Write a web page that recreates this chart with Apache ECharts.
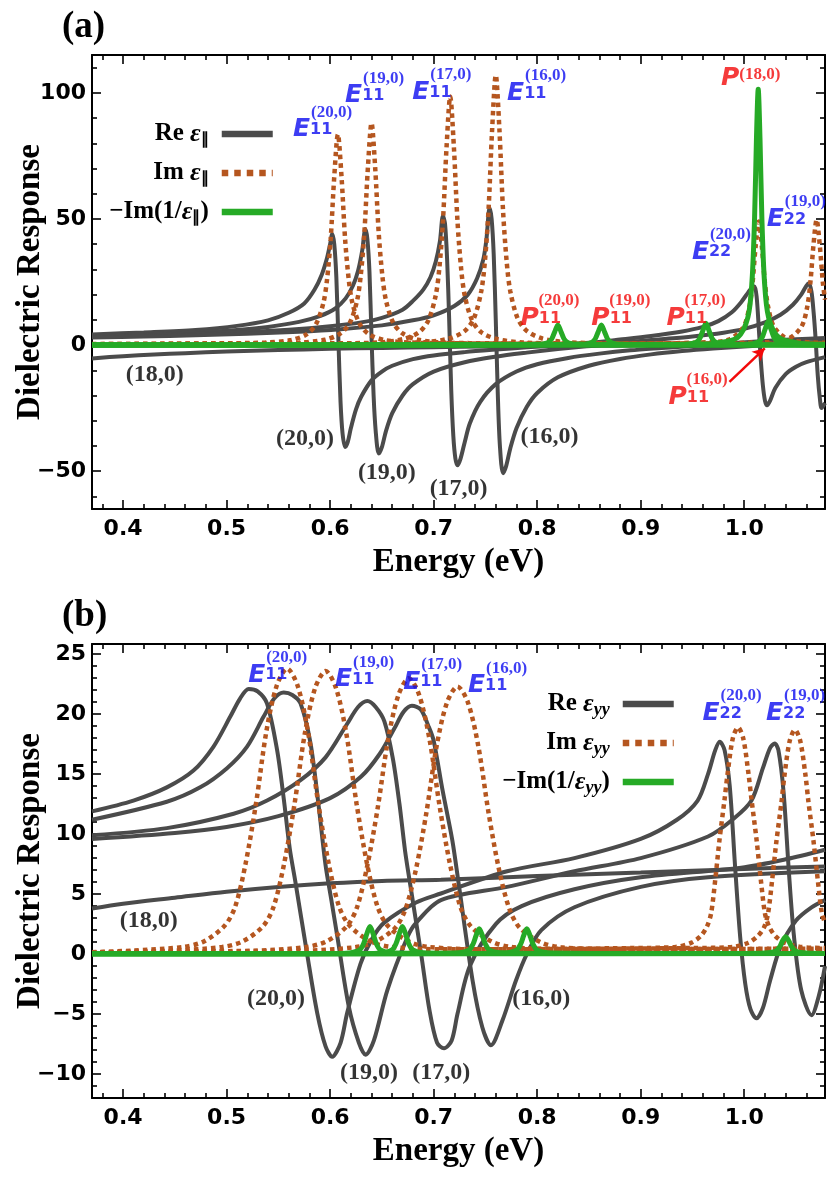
<!DOCTYPE html>
<html>
<head>
<meta charset="utf-8">
<title>Dielectric response of (n,0) tubes</title>
<script src="https://cdn.jsdelivr.net/npm/echarts@6.0.0/dist/echarts.min.js"></script>
<style>
  html, body { margin: 0; padding: 0; background: #fff; }
  #main { width: 830px; height: 1183px; }
</style>
</head>
<body>
<div id="main"></div>
<script>
// tick positions
var xMajor = [0.4, 0.5, 0.6, 0.7, 0.8, 0.9, 1.0];
var xMinor = [0.38, 0.42, 0.44, 0.46, 0.48, 0.52, 0.54, 0.56, 0.58, 0.62, 0.64, 0.66, 0.68, 0.72, 0.74, 0.76, 0.78,
              0.82, 0.84, 0.86, 0.88, 0.92, 0.94, 0.96, 0.98, 1.02, 1.04, 1.06];
var yMajorA = [-50, 0, 50, 100];
var yMinorA = [-60, -40, -30, -20, -10, 10, 20, 30, 40, 60, 70, 80, 90, 110];
var yMajorB = [-10, -5, 0, 5, 10, 15, 20, 25];
var yMinorB = [-11, -9, -8, -7, -6, -4, -3, -2, -1, 1, 2, 3, 4, 6, 7, 8, 9, 11, 12, 13, 14, 16, 17, 18, 19, 21, 22, 23, 24];

// ---- (a) parallel: Re eps ----
var reA20 = [[0.37,4.2],[0.42,5.0],[0.47,6.0],[0.51,7.6],[0.54,9.8],[0.56,12.8],[0.575,16.5],[0.585,22],[0.592,28],[0.597,34.5],[0.600,40],[0.602,44],[0.604,40],[0.606,27],[0.608,2],[0.610,-22],[0.612,-35],[0.6145,-40.4],[0.617,-38.5],[0.620,-33],[0.625,-25.5],[0.630,-20.5],[0.640,-14],[0.650,-10.5],[0.660,-8.2],[0.680,-5.6],[0.700,-4.1],[0.730,-2.8],[0.760,-1.8],[0.790,-0.9],[0.820,0],[0.850,0.9],[0.880,2.2],[0.910,3.6],[0.940,5.4],[0.960,7.2],[0.975,9.5],[0.988,13],[0.997,17],[1.004,21],[1.008,23],[1.010,23.2],[1.012,19],[1.014,7],[1.016,-6],[1.018,-16],[1.020,-22],[1.022,-23.9],[1.025,-22],[1.030,-17],[1.040,-11.5],[1.050,-8.6],[1.060,-6.8],[1.078,-4.8]];
var reA19 = [[0.37,3.6],[0.42,4.2],[0.47,5.0],[0.51,6.0],[0.54,7.2],[0.57,9.2],[0.59,11.5],[0.605,14.5],[0.615,18.5],[0.622,23.5],[0.627,29.5],[0.631,37.5],[0.634,46],[0.636,42],[0.638,29],[0.640,3],[0.642,-20],[0.644,-34],[0.647,-43],[0.650,-40.5],[0.654,-34],[0.660,-27],[0.670,-20],[0.680,-15.5],[0.700,-10.5],[0.730,-6.8],[0.760,-4.6],[0.790,-3.0],[0.820,-1.6],[0.845,-0.6],[0.862,0],[0.880,0.9],[0.920,2.3],[0.950,3.4],[0.980,4.9],[1.000,6.4],[1.020,9],[1.035,12],[1.047,16],[1.055,20],[1.060,23.5],[1.0625,24.5],[1.065,21],[1.067,13],[1.069,2],[1.071,-12],[1.073,-21],[1.0747,-25],[1.078,-23]];
var reA17 = [[0.37,3.3],[0.42,3.8],[0.47,4.4],[0.52,5.2],[0.56,6.1],[0.60,7.5],[0.63,9.0],[0.65,10.8],[0.67,14],[0.68,17.5],[0.69,22],[0.697,27],[0.702,33],[0.706,41],[0.709,51.3],[0.711,48],[0.713,34],[0.715,10],[0.717,-18],[0.719,-36],[0.721,-45],[0.723,-47.7],[0.726,-45],[0.730,-38.5],[0.735,-31],[0.745,-22.5],[0.760,-15.5],[0.780,-10.5],[0.800,-7.6],[0.830,-5.1],[0.860,-3.4],[0.890,-2.1],[0.920,-1.2],[0.945,-0.5],[0.963,0],[0.990,0.8],[1.020,1.6],[1.050,2.3],[1.078,2.8]];
var reA16 = [[0.37,3.0],[0.42,3.4],[0.47,3.9],[0.52,4.5],[0.57,5.3],[0.61,6.3],[0.65,7.8],[0.68,9.8],[0.70,11.8],[0.72,15.5],[0.733,20],[0.742,26.5],[0.748,34],[0.751,42],[0.754,54.3],[0.756,50],[0.758,36],[0.760,10],[0.762,-20],[0.764,-40],[0.767,-50.8],[0.770,-48],[0.774,-41],[0.780,-33],[0.790,-24.5],[0.800,-19],[0.820,-12.8],[0.850,-8.2],[0.880,-5.5],[0.910,-3.7],[0.940,-2.4],[0.970,-1.4],[1.000,-0.6],[1.023,0],[1.050,0.7],[1.078,1.5]];
var reA18 = [[0.37,-5.3],[0.40,-4.4],[0.43,-3.7],[0.46,-3.2],[0.50,-2.6],[0.55,-2.0],[0.60,-1.5],[0.65,-1.15],[0.70,-0.85],[0.75,-0.6],[0.80,-0.45],[0.85,-0.3],[0.90,-0.2],[0.95,-0.1],[1.0135,0],[1.05,0.1],[1.078,0.15]];

// ---- (a) parallel: Im eps ----
var imA20 = [[0.37,0.4],[0.45,0.55],[0.50,0.7],[0.5375,1.0],[0.5625,2.0],[0.5775,4.3],[0.5865,8.4],[0.5935,16.7],[0.597,25.9],[0.6005,41.8],[0.604,66.8],[0.6075,83.5],[0.611,66.8],[0.6145,41.8],[0.618,25.9],[0.6215,16.7],[0.6285,8.4],[0.6375,4.3],[0.6525,2.0],[0.6775,1.0],[0.72,0.7],[0.80,0.55],[0.90,0.6],[0.954,1.0],[0.984,2.0],[0.999,7],[1.005,15.3],[1.008,24.5],[1.011,39.2],[1.014,49],[1.017,39.2],[1.020,24.5],[1.023,15.3],[1.029,7],[1.044,2.0],[1.078,0.9]];
var imA19 = [[0.37,0.35],[0.45,0.5],[0.52,0.7],[0.57,1.0],[0.595,2.1],[0.610,4.6],[0.619,8.8],[0.626,17.6],[0.6295,27.3],[0.633,44],[0.6365,70.4],[0.640,88],[0.6435,70.4],[0.647,44],[0.6505,27.3],[0.654,17.6],[0.661,8.8],[0.670,4.6],[0.685,2.1],[0.710,1.0],[0.76,0.7],[0.85,0.55],[0.95,0.6],[1.010,1.0],[1.0399,2.0],[1.0549,7],[1.0609,15.3],[1.0639,24.9],[1.0669,39.8],[1.0699,49.7],[1.0729,39.8],[1.0759,24.9],[1.078,18]];
var imA17 = [[0.37,0.3],[0.50,0.45],[0.60,0.7],[0.646,1.0],[0.671,2.4],[0.686,5.1],[0.695,9.9],[0.702,19.7],[0.7055,30.5],[0.709,49.3],[0.7125,78.8],[0.716,98.5],[0.7195,78.8],[0.723,49.3],[0.7265,30.5],[0.730,19.7],[0.737,9.9],[0.746,5.1],[0.761,2.4],[0.786,1.0],[0.85,0.6],[0.95,0.5],[1.078,0.6]];
var imA16 = [[0.37,0.3],[0.50,0.4],[0.62,0.6],[0.69,1.1],[0.715,2.6],[0.730,5.6],[0.739,10.7],[0.746,21.4],[0.7495,33.2],[0.753,53.5],[0.7565,85.6],[0.760,107],[0.7635,85.6],[0.767,53.5],[0.7705,33.2],[0.774,21.4],[0.781,10.7],[0.790,5.6],[0.805,2.6],[0.830,1.1],[0.90,0.6],[1.078,0.5]];

// ---- (a) parallel: loss -Im(1/eps) ----
var lossA20 = [[0.37,0],[0.76,0.1],[0.80,0.3],[0.81,0.9],[0.814,2.4],[0.817,5.3],[0.820,8],[0.823,5.3],[0.826,2.4],[0.830,0.9],[0.840,0.3],[0.88,0.1],[1.078,0.05]];
var lossA19 = [[0.37,0],[0.80,0.1],[0.842,0.3],[0.852,0.9],[0.856,2.4],[0.859,5.3],[0.862,8],[0.865,5.3],[0.868,2.4],[0.872,0.9],[0.882,0.3],[0.92,0.1],[1.078,0.05]];
var lossA17 = [[0.37,0],[0.90,0.1],[0.943,0.3],[0.953,1.0],[0.957,2.6],[0.960,5.7],[0.963,8.6],[0.966,5.7],[0.969,2.6],[0.973,1.0],[0.983,0.3],[1.02,0.1],[1.078,0.05]];
var lossA16 = [[0.37,0],[0.96,0.1],[1.003,0.35],[1.013,1.1],[1.017,2.8],[1.020,6.1],[1.023,9.3],[1.026,6.1],[1.029,2.8],[1.033,1.1],[1.043,0.35],[1.078,0.1]];
var lossA18 = [[0.37,0],[0.80,0.1],[0.90,0.15],[0.95,0.35],[0.9735,0.76],[0.9935,3],[1.0035,11],[1.0075,25.4],[1.010,50.7],[1.0118,82],[1.0135,101.4],[1.0152,82],[1.017,50.7],[1.0195,25.4],[1.0235,11],[1.0335,3],[1.0535,0.76],[1.078,0.35]];

// ---- (b) perpendicular: Re eps_yy ----
var reB20 = [[0.37,11.9],[0.41,12.8],[0.4423,13.9],[0.468,15.3],[0.4874,17.3],[0.5036,19.8],[0.513,21.3],[0.5213,22.1],[0.530,21.9],[0.539,20.9],[0.5488,17],[0.555,13.1],[0.561,8.8],[0.5665,6.0],[0.5778,0],[0.5875,-4.9],[0.5956,-7.7],[0.602,-8.56],[0.6101,-7.4],[0.6165,-4.9],[0.6294,-0.8],[0.640,1.2],[0.652,2.6],[0.683,4.3],[0.707,5.05],[0.771,6.9],[0.836,8.0],[0.900,9.6],[0.935,11.2],[0.955,12.8],[0.965,15],[0.972,17],[0.9763,17.7],[0.981,17],[0.986,14],[0.991,7.5],[0.996,1.5],[1.001,-2.5],[1.006,-4.6],[1.0118,-5.36],[1.018,-4.5],[1.025,-2.2],[1.035,0.6],[1.050,2.8],[1.065,3.9],[1.078,4.5]];
var reB19 = [[0.37,11.2],[0.4423,12.7],[0.4745,13.9],[0.5004,15.5],[0.5198,17.3],[0.5358,19.8],[0.546,21.3],[0.5552,21.8],[0.5635,21.6],[0.5714,20.9],[0.581,17.6],[0.589,12.3],[0.5956,7.4],[0.601,4.6],[0.6069,1.5],[0.6181,-4.4],[0.6278,-7.4],[0.6343,-8.4],[0.6423,-7.2],[0.6553,-3],[0.6746,1.4],[0.683,2.6],[0.707,4.5],[0.771,5.6],[0.836,6.9],[0.900,8.0],[0.965,9.8],[0.990,11.3],[1.007,12.8],[1.018,15.5],[1.025,17.2],[1.0295,17.55],[1.033,17],[1.038,13.5],[1.043,7],[1.048,1.5],[1.055,-3],[1.065,-5.1],[1.072,-3.5],[1.078,-1]];
var reB17 = [[0.37,9.9],[0.4423,10.5],[0.5068,11.7],[0.5391,12.8],[0.5714,14.5],[0.5956,16.4],[0.6165,19.2],[0.627,20.6],[0.636,21.1],[0.644,20.6],[0.6524,19.4],[0.6606,16.3],[0.667,12.5],[0.6724,8.6],[0.677,6.0],[0.6879,0],[0.696,-4.7],[0.7033,-7.4],[0.710,-7.86],[0.7174,-7.2],[0.723,-5],[0.735,-1],[0.760,2.5],[0.785,4.0],[0.836,5.4],[0.900,6.4],[0.997,7.2],[1.040,7.9],[1.078,8.7]];
var reB16 = [[0.37,9.6],[0.45,10.1],[0.50,10.6],[0.55,11.5],[0.60,13],[0.63,14.8],[0.648,16.7],[0.662,18.8],[0.671,20.2],[0.679,20.7],[0.6875,20.4],[0.695,19],[0.700,17.8],[0.7085,13.7],[0.718,9.5],[0.7246,5.6],[0.7376,-2.2],[0.747,-6.1],[0.7553,-7.6],[0.7666,-5.5],[0.7795,-2.2],[0.790,0],[0.804,2.0],[0.836,3.9],[0.900,5.6],[0.965,6.4],[1.078,6.9]];
var reB18 = [[0.37,3.8],[0.40,4.2],[0.45,4.7],[0.50,5.2],[0.55,5.6],[0.60,5.9],[0.65,6.1],[0.707,6.2],[0.80,6.5],[0.90,6.8],[1.00,7.1],[1.078,7.3]];

// ---- (b) perpendicular: Im eps_yy ----
var imB20 = [[0.37,0.15],[0.4085,0.29],[0.4585,0.6],[0.4785,1.07],[0.4985,2.4],[0.5085,4.0],[0.5185,7.6],[0.5285,12.6],[0.5385,18.6],[0.5485,22.4],[0.5585,23.8],[0.5685,22.4],[0.5785,18.6],[0.5885,12.6],[0.5985,7.6],[0.6085,4.0],[0.6185,2.4],[0.6385,1.07],[0.6585,0.6],[0.7085,0.4],[0.894,0.5],[0.934,0.6],[0.949,0.95],[0.958,1.5],[0.964,2.3],[0.968,3.4],[0.972,6.2],[0.976,9.45],[0.981,12.9],[0.984,15.1],[0.989,18],[0.994,18.9],[0.999,18],[1.004,15.1],[1.007,12.9],[1.012,9.45],[1.016,6.2],[1.020,3.4],[1.024,2.3],[1.030,1.5],[1.039,0.95],[1.054,0.6],[1.078,0.5]];
var imB19 = [[0.37,0.15],[0.4456,0.28],[0.4956,0.59],[0.5156,1.06],[0.5356,2.36],[0.5456,4.0],[0.5556,7.55],[0.5656,12.5],[0.5756,18.4],[0.5856,22.2],[0.5956,23.6],[0.6056,22.2],[0.6156,18.4],[0.6256,12.5],[0.6356,7.55],[0.6456,4.0],[0.6556,2.36],[0.6756,1.06],[0.6956,0.59],[0.7456,0.4],[0.949,0.5],[0.989,0.6],[1.004,0.94],[1.013,1.5],[1.019,2.2],[1.023,3.4],[1.027,6.2],[1.031,9.35],[1.036,12.7],[1.039,15],[1.044,17.8],[1.049,18.7],[1.054,17.8],[1.059,15],[1.062,12.7],[1.067,9.35],[1.071,6.2],[1.075,3.4],[1.078,2.6]];
var imB17 = [[0.37,0.15],[0.526,0.28],[0.576,0.58],[0.596,1.04],[0.616,2.3],[0.626,3.9],[0.636,7.4],[0.646,12.2],[0.656,17.9],[0.666,21.6],[0.676,23],[0.686,21.6],[0.696,17.9],[0.706,12.2],[0.716,7.4],[0.726,3.9],[0.736,2.3],[0.756,1.04],[0.776,0.58],[0.826,0.4],[1.078,0.45]];
var imB16 = [[0.37,0.15],[0.573,0.27],[0.623,0.56],[0.643,1.0],[0.663,2.2],[0.673,3.8],[0.683,7.1],[0.693,11.8],[0.703,17.4],[0.713,21],[0.723,22.3],[0.733,21],[0.743,17.4],[0.753,11.8],[0.763,7.1],[0.773,3.8],[0.783,2.2],[0.803,1.0],[0.823,0.56],[0.873,0.4],[1.078,0.45]];

// ---- (b) perpendicular: loss -Im(1/eps_yy) ----
var lossB20 = [[0.37,0.03],[0.60,0.05],[0.6185,0.1],[0.6285,0.35],[0.6325,0.9],[0.6355,1.7],[0.6385,2.3],[0.6415,1.7],[0.6445,0.9],[0.6485,0.35],[0.6585,0.1],[0.70,0.05],[1.00,0.05],[1.02,0.08],[1.030,0.22],[1.034,0.58],[1.037,1.1],[1.040,1.45],[1.043,1.1],[1.046,0.58],[1.050,0.22],[1.060,0.08],[1.078,0.05]];
var lossB19 = [[0.37,0.03],[0.63,0.05],[0.6498,0.1],[0.6598,0.35],[0.6638,0.9],[0.6668,1.7],[0.6698,2.3],[0.6728,1.7],[0.6758,0.9],[0.6798,0.35],[0.6898,0.1],[0.73,0.05],[1.078,0.05]];
var lossB17 = [[0.37,0.03],[0.70,0.05],[0.724,0.1],[0.734,0.32],[0.738,0.82],[0.741,1.55],[0.744,2.1],[0.747,1.55],[0.750,0.82],[0.754,0.32],[0.764,0.1],[0.80,0.05],[1.078,0.05]];
var lossB16 = [[0.37,0.03],[0.75,0.05],[0.770,0.1],[0.780,0.32],[0.784,0.82],[0.787,1.55],[0.790,2.1],[0.793,1.55],[0.796,0.82],[0.800,0.32],[0.810,0.1],[0.85,0.05],[1.078,0.05]];
var lossB18 = [[0.37,0.02],[0.70,0.03],[1.078,0.04]];

var BLUE = '#0c0cf0', RED = '#f20a0a';
var C_RE = '#4b4b4b', C_IM = '#b5561f', C_LOSS = '#26aa26';

var TICK_FONT = { fontFamily: 'DejaVu Sans', fontWeight: 'bold', fontSize: 22, color: '#000' };
var NAME_FONT = { fontFamily: 'Liberation Serif', fontWeight: 'bold', fontSize: 33, color: '#000' };

function ticks(len, vals) {
  return { show: true, inside: true, length: len, customValues: vals, lineStyle: { color: '#000', width: 1.6 } };
}

// 4 x axes per grid: bottom major (labels), bottom minor, top major, top minor
function xAxesFor(g) {
  var out = [];
  ['bottom', 'top'].forEach(function (pos) {
    out.push({
      type: 'value', gridIndex: g, position: pos, min: 0.37, max: 1.078,
      splitLine: { show: false },
      axisLine: { show: true, onZero: false, lineStyle: { color: '#000', width: 2 } },
      axisTick: ticks(9, xMajor),
      axisLabel: pos === 'bottom'
        ? Object.assign({ customValues: xMajor, margin: 9, formatter: function (v) { return v.toFixed(1); } }, TICK_FONT)
        : { show: false },
      name: pos === 'bottom' ? 'Energy (eV)' : '',
      nameLocation: 'middle', nameGap: 37, nameTextStyle: NAME_FONT
    });
    out.push({
      type: 'value', gridIndex: g, position: pos, min: 0.37, max: 1.078,
      splitLine: { show: false }, axisLine: { show: false, onZero: false },
      axisTick: ticks(5, xMinor), axisLabel: { show: false }
    });
  });
  return out;
}

function yAxesFor(g, lo, hi, major, minor) {
  var out = [];
  ['left', 'right'].forEach(function (pos) {
    out.push({
      type: 'value', gridIndex: g, position: pos, min: lo, max: hi,
      splitLine: { show: false },
      axisLine: { show: true, onZero: false, lineStyle: { color: '#000', width: 2 } },
      axisTick: ticks(9, major),
      axisLabel: pos === 'left'
        ? Object.assign({ customValues: major, margin: 6, formatter: function (v) { return String(v).replace('-', '\u2212'); } }, TICK_FONT)
        : { show: false },
      name: pos === 'left' ? 'Dielectric Response' : '',
      nameLocation: 'middle', nameGap: 45, nameMoveOverlap: false, nameTextStyle: NAME_FONT
    });
    out.push({
      type: 'value', gridIndex: g, position: pos, min: lo, max: hi,
      splitLine: { show: false }, axisLine: { show: false, onZero: false },
      axisTick: ticks(5, minor), axisLabel: { show: false }
    });
  });
  return out;
}

var RE_STYLE = { color: C_RE, width: 4 };
var IM_STYLE = { color: C_IM, width: 4.5, type: [4.5, 4], cap: 'butt' };
var LOSS_STYLE = { color: C_LOSS, width: 5 };

function curves(list, name, style, g) {
  return list.map(function (d) {
    return {
      type: 'line', name: name, data: d, xAxisIndex: g * 4, yAxisIndex: g * 4,
      symbol: 'none', smooth: 0.3, silent: true, lineStyle: style, itemStyle: { color: style.color },
      emphasis: { disabled: true }
    };
  });
}

// rich styles for the peak tags
var TAG_RICH = {
  sp:   { width: 18, fontSize: 16, lineHeight: 15 },
  supB: { fontFamily: 'Liberation Serif', fontWeight: 'bold', fontSize: 17, lineHeight: 15, color: BLUE },
  eB:   { fontFamily: 'DejaVu Sans', fontWeight: 'bold', fontStyle: 'italic', fontSize: 25, lineHeight: 20, color: BLUE },
  subB: { fontFamily: 'DejaVu Sans', fontWeight: 'bold', fontSize: 16, lineHeight: 20, color: BLUE },
  supR: { fontFamily: 'Liberation Serif', fontWeight: 'bold', fontSize: 17, lineHeight: 15, color: RED },
  eR:   { fontFamily: 'DejaVu Sans', fontWeight: 'bold', fontStyle: 'italic', fontSize: 25, lineHeight: 20, color: RED },
  subR: { fontFamily: 'DejaVu Sans', fontWeight: 'bold', fontSize: 16, lineHeight: 20, color: RED },
  supR2:{ fontFamily: 'Liberation Serif', fontWeight: 'bold', fontSize: 17, color: RED, padding: [0, 0, 9, 0] }
};

function tag(x, y, letter, sub, sup, c) {
  return { value: [x, y], label: { formatter: '{sp|}{sup' + c + '|' + sup + '}\n{e' + c + '|' + letter + '}{sub' + c + '|' + sub + '}' } };
}

function tagSeries(g, items, extra) {
  return Object.assign({
    type: 'scatter', xAxisIndex: g * 4, yAxisIndex: g * 4, symbolSize: 1, silent: true,
    itemStyle: { color: 'rgba(0,0,0,0)' },
    label: { show: true, position: [0, 0], align: 'left', verticalAlign: 'top', rich: TAG_RICH },
    data: items, z: 10
  }, extra || {});
}

function tubeSeries(g, items) {
  return {
    type: 'scatter', xAxisIndex: g * 4, yAxisIndex: g * 4, symbolSize: 1, silent: true,
    itemStyle: { color: 'rgba(0,0,0,0)' },
    label: {
      show: true, position: [0, 0], align: 'center', verticalAlign: 'middle',
      fontFamily: 'Liberation Serif', fontWeight: 'bold', fontSize: 24, color: '#000',
      formatter: function (p) { return p.data.t; }
    },
    data: items, z: 10
  };
}

var tagsA = [
  tag(0.5646, 95.0, 'E', '11', '(20,0)', 'B'),
  tag(0.6149, 108.6, 'E', '11', '(19,0)', 'B'),
  tag(0.6798, 109.9, 'E', '11', '(17,0)', 'B'),
  tag(0.7714, 109.5, 'E', '11', '(16,0)', 'B'),
  tag(0.9499, 46.5, 'E', '22', '(20,0)', 'B'),
  tag(1.0222, 59.5, 'E', '22', '(19,0)', 'B'),
  tag(0.7843, 20.3, 'P', '11', '(20,0)', 'R'),
  tag(0.8528, 20.3, 'P', '11', '(19,0)', 'R'),
  tag(0.9254, 20.3, 'P', '11', '(17,0)', 'R'),
  tag(0.9273, -11.1, 'P', '11', '(16,0)', 'R'),
  { value: [0.978, 110.5], label: { formatter: '{eR|P}{supR2|(18,0)}' } }
];
var tagsB = [
  tag(0.5213, 25.3, 'E', '11', '(20,0)', 'B'),
  tag(0.6052, 24.9, 'E', '11', '(19,0)', 'B'),
  tag(0.6710, 24.7, 'E', '11', '(17,0)', 'B'),
  tag(0.7337, 24.4, 'E', '11', '(16,0)', 'B'),
  tag(0.9602, 22.1, 'E', '22', '(20,0)', 'B'),
  tag(1.0215, 22.1, 'E', '22', '(19,0)', 'B')
];
var tubesA = [
  { value: [0.431, -11.9], t: '(18,0)' }, { value: [0.5762, -37.4], t: '(20,0)' },
  { value: [0.6553, -50.7], t: '(19,0)' }, { value: [0.7246, -57.3], t: '(17,0)' },
  { value: [0.8124, -36.5], t: '(16,0)' }
];
var tubesB = [
  { value: [0.4252, 2.75], t: '(18,0)' }, { value: [0.5481, -3.75], t: '(20,0)' },
  { value: [0.6381, -9.9], t: '(19,0)' }, { value: [0.7079, -9.9], t: '(17,0)' },
  { value: [0.8044, -3.75], t: '(16,0)' }
];

var LEG_RICH = {
  n:  { fontFamily: 'Liberation Serif', fontWeight: 'bold', fontSize: 25, color: '#000' },
  g:  { fontFamily: 'Liberation Serif', fontWeight: 'bold', fontStyle: 'italic', fontSize: 26, color: '#000' },
  s:  { fontFamily: 'Liberation Serif', fontWeight: 'bold', fontSize: 16, color: '#000', padding: [11, 0, 0, 0] },
  si: { fontFamily: 'Liberation Serif', fontWeight: 'bold', fontStyle: 'italic', fontSize: 18, color: '#000', padding: [12, 0, 0, 0] },
  gap:{ width: 8 }
};

function legendRow(name, text, right, top, lineStyle) {
  return {
    data: [name], right: right, top: top, padding: 0, itemWidth: 51, itemHeight: 14,
    align: 'right', selectedMode: false,
    itemStyle: { opacity: 0, borderWidth: 0 },
    formatter: function () { return text + '{gap|}'; },
    textStyle: { rich: LEG_RICH }, lineStyle: lineStyle
  };
}

var series = []
  .concat(curves([reA20, reA19, reA17, reA16, reA18], 'Re \u03b5\u2225', RE_STYLE, 0))
  .concat(curves([imA20, imA19, imA17, imA16], 'Im \u03b5\u2225', IM_STYLE, 0))
  .concat(curves([lossA20, lossA19, lossA17, lossA16, lossA18], '\u2212Im(1/\u03b5\u2225)', LOSS_STYLE, 0))
  .concat(curves([reB20, reB19, reB17, reB16, reB18], 'Re \u03b5yy', RE_STYLE, 1))
  .concat(curves([imB20, imB19, imB17, imB16], 'Im \u03b5yy', IM_STYLE, 1))
  .concat(curves([lossB20, lossB19, lossB17, lossB16, lossB18], '\u2212Im(1/\u03b5yy)', LOSS_STYLE, 1));

series.push(tagSeries(0, tagsA, {
  markLine: {
    silent: true, symbol: ['none', 'arrow'], symbolSize: [10, 12],
    lineStyle: { color: RED, width: 2.5, type: 'solid' }, label: { show: false },
    data: [[{ coord: [0.9857, -14.6] }, { coord: [1.0198, -1.3] }]]
  }
}));
series.push(tagSeries(1, tagsB));
series.push(tubeSeries(0, tubesA));
series.push(tubeSeries(1, tubesB));

var option = {
  animation: false,
  backgroundColor: '#fff',
  title: [
    { text: '(a)', left: 62, top: 9, padding: 0, textStyle: { fontFamily: 'Liberation Serif', fontWeight: 'bold', fontSize: 37, color: '#000' } },
    { text: '(b)', left: 62, top: 598, padding: 0, textStyle: { fontFamily: 'Liberation Serif', fontWeight: 'bold', fontSize: 37, color: '#000' } }
  ],
  legend: [
    legendRow('Re \u03b5\u2225', '{n|Re }{g|\u03b5}{s|\u2225}', 554, 121, { width: 6.5 }),
    legendRow('Im \u03b5\u2225', '{n|Im }{g|\u03b5}{s|\u2225}', 554, 160, { width: 6.5, type: [6.5, 6] }),
    legendRow('\u2212Im(1/\u03b5\u2225)', '{n|\u2212Im(1/}{g|\u03b5}{s|\u2225}{n|)}', 554, 199, { width: 6.5 }),
    legendRow('Re \u03b5yy', '{n|Re }{g|\u03b5}{si|yy}', 153, 691, { width: 6.5 }),
    legendRow('Im \u03b5yy', '{n|Im }{g|\u03b5}{si|yy}', 153, 730, { width: 6.5, type: [6.5, 6] }),
    legendRow('\u2212Im(1/\u03b5yy)', '{n|\u2212Im(1/}{g|\u03b5}{si|yy}{n|)}', 153, 769, { width: 6.5 })
  ],
  grid: [
    { left: 92, top: 55, width: 733, height: 454, outerBoundsMode: 'none' },
    { left: 92, top: 644, width: 733, height: 454, outerBoundsMode: 'none' }
  ],
  xAxis: xAxesFor(0).concat(xAxesFor(1)),
  yAxis: yAxesFor(0, -65, 115, yMajorA, yMinorA).concat(yAxesFor(1, -12, 25.85, yMajorB, yMinorB)),
  series: series
};

var chart = echarts.init(document.getElementById('main'));
chart.setOption(option);
</script>
</body>
</html>
